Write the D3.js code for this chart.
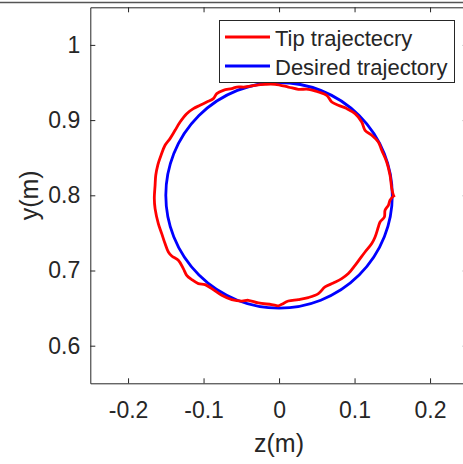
<!DOCTYPE html>
<html><head><meta charset="utf-8">
<script src="https://cdn.jsdelivr.net/npm/d3@7"></script>
<style>
html,body{margin:0;padding:0;background:#fff;}
svg text{font-family:"Liberation Sans",Arial,Helvetica,sans-serif;fill:#262626;}
</style></head>
<body>
<svg id="c" width="463" height="464"></svg>
<script>
// ---- data ----
const xTicks = [-0.2, -0.1, 0, 0.1, 0.2];
const xTickLabels = ["-0.2", "-0.1", "0", "0.1", "0.2"];
const yTicks = [0.6, 0.7, 0.8, 0.9, 1.0];
const yTickLabels = ["0.6", "0.7", "0.8", "0.9", "1"];
const seriesNames = ["Tip trajectecry", "Desired trajectory"];
const seriesColors = ["#ff0000", "#0000ff"];
const desiredCenter = [0, 0.8];
const desiredRadius = 0.15;
const tipZ = [0.1514, 0.1493, 0.1470, 0.1426, 0.1360, 0.1315, 0.1228, 0.1139, 0.1095, 0.1007,
  0.0897, 0.0785, 0.0698, 0.0632, 0.0521, 0.0388, 0.0256, 0.0123, -0.0053, -0.0185,
  -0.0318, -0.0450, -0.0560, -0.0626, -0.0738, -0.0825, -0.0870, -0.0958, -0.1046, -0.1135,
  -0.1223, -0.1311, -0.1377, -0.1444, -0.1510, -0.1563, -0.1607, -0.1633, -0.1642, -0.1652,
  -0.1642, -0.1599, -0.1554, -0.1510, -0.1466, -0.1421, -0.1334, -0.1268, -0.1223, -0.1156,
  -0.1069, -0.0980, -0.0891, -0.0759, -0.0626, -0.0494, -0.0407, -0.0274, -0.0097, -0.0009,
  0.0036, 0.0123, 0.0256, 0.0388, 0.0521, 0.0609, 0.0719, 0.0830, 0.0918, 0.1007,
  0.1073, 0.1139, 0.1228, 0.1272, 0.1315, 0.1338, 0.1395, 0.1404, 0.1448, 0.1470,
  0.1514, 0.1536];
const tipY = [0.8000, 0.8089, 0.8266, 0.8443, 0.8598, 0.8709, 0.8798, 0.8864, 0.8975, 0.9086,
  0.9153, 0.9197, 0.9241, 0.9330, 0.9374, 0.9410, 0.9410, 0.9440, 0.9475, 0.9475,
  0.9463, 0.9440, 0.9440, 0.9419, 0.9396, 0.9352, 0.9286, 0.9241, 0.9197, 0.9153,
  0.9086, 0.8975, 0.8864, 0.8754, 0.8665, 0.8532, 0.8399, 0.8266, 0.8133, 0.7956,
  0.7823, 0.7624, 0.7491, 0.7358, 0.7246, 0.7193, 0.7136, 0.7025, 0.6936, 0.6879,
  0.6826, 0.6813, 0.6759, 0.6670, 0.6613, 0.6594, 0.6604, 0.6568, 0.6547, 0.6531,
  0.6551, 0.6594, 0.6613, 0.6640, 0.6693, 0.6781, 0.6834, 0.6892, 0.6959, 0.7069,
  0.7158, 0.7246, 0.7358, 0.7445, 0.7578, 0.7645, 0.7711, 0.7801, 0.7867, 0.7934,
  0.7987, 0.8000];
const xDomain = [-0.25, 0.25];
const yDomain = [0.55, 1.05];
const xLabel = "z(m)", yLabel = "y(m)";

// ---- drawing ----
const svg = d3.select("#c");
const L = 90.3, R = 467.8, T = 7.3, B = 383.3;
const x = d3.scaleLinear().domain(xDomain).range([L, R]);
const y = d3.scaleLinear().domain(yDomain).range([B, T]);
const axisColor = "#262626";

// top border line of figure
svg.append("line").attr("x1", 0).attr("x2", 463).attr("y1", 2.5).attr("y2", 2.5)
  .attr("stroke", "#555").attr("stroke-width", 1.5);

svg.append("rect").attr("x", L).attr("y", T).attr("width", R - L).attr("height", B - T).attr("fill", "#fff");

const fmtX = d => xTickLabels[xTicks.indexOf(d)];
const fmtY = d => yTickLabels[yTicks.indexOf(d)];

function styleAxis(g, showText) {
  g.select(".domain").attr("stroke", axisColor).attr("stroke-width", 1);
  g.selectAll(".tick line").attr("stroke", axisColor).attr("stroke-width", 1);
  g.selectAll(".tick text").attr("fill", axisColor).style("font-size", "23px")
    .style("display", showText ? null : "none");
}

svg.append("g").attr("transform", `translate(0,${B})`)
  .call(d3.axisBottom(x).tickValues(xTicks).tickFormat(fmtX).tickSizeInner(-5).tickSizeOuter(0).tickPadding(18))
  .call(g => styleAxis(g, true));
svg.append("g").attr("transform", `translate(0,${T})`)
  .call(d3.axisTop(x).tickValues(xTicks).tickFormat(fmtX).tickSizeInner(-5).tickSizeOuter(0))
  .call(g => styleAxis(g, false));
svg.append("g").attr("transform", `translate(${L},0)`)
  .call(d3.axisLeft(y).tickValues(yTicks).tickFormat(fmtY).tickSizeInner(-5).tickSizeOuter(0).tickPadding(10))
  .call(g => styleAxis(g, true));
svg.append("g").attr("transform", `translate(${R},0)`)
  .call(d3.axisRight(y).tickValues(yTicks).tickFormat(fmtY).tickSizeInner(-5).tickSizeOuter(0))
  .call(g => styleAxis(g, false));

// desired circle
svg.append("ellipse")
  .attr("cx", x(desiredCenter[0])).attr("cy", y(desiredCenter[1]))
  .attr("rx", x(desiredRadius) - x(0)).attr("ry", y(0) - y(desiredRadius))
  .attr("fill", "none").attr("stroke", seriesColors[1]).attr("stroke-width", 2.8);

// tip trajectory
const pts = tipZ.map((z, i) => [z, tipY[i]]);
svg.append("path").datum(pts)
  .attr("d", d3.line().x(d => x(d[0])).y(d => y(d[1])).curve(d3.curveCatmullRom))
  .attr("fill", "none").attr("stroke", seriesColors[0]).attr("stroke-width", 2.8)
  .attr("stroke-linejoin", "round");

// axis labels
svg.append("text").attr("x", x(0)).attr("y", 452).attr("text-anchor", "middle")
  .style("font-size", "25px").text(xLabel);
svg.append("text").attr("transform", `translate(38,${y(0.8)}) rotate(-90)`).attr("text-anchor", "middle")
  .style("font-size", "25px").text(yLabel);

// legend
const lg = svg.append("g");
lg.append("rect").attr("x", 219.5).attr("y", 20.5).attr("width", 235).attr("height", 62)
  .attr("fill", "#fff").attr("stroke", axisColor).attr("stroke-width", 1);
const rowY = [37, 66];
seriesNames.forEach((n, i) => {
  lg.append("line").attr("x1", 225).attr("x2", 270).attr("y1", rowY[i]).attr("y2", rowY[i])
    .attr("stroke", seriesColors[i]).attr("stroke-width", 2.8);
  lg.append("text").attr("x", 275).attr("y", rowY[i] + 8.5).style("font-size", "22px").text(n);
});
</script>
</body></html>
